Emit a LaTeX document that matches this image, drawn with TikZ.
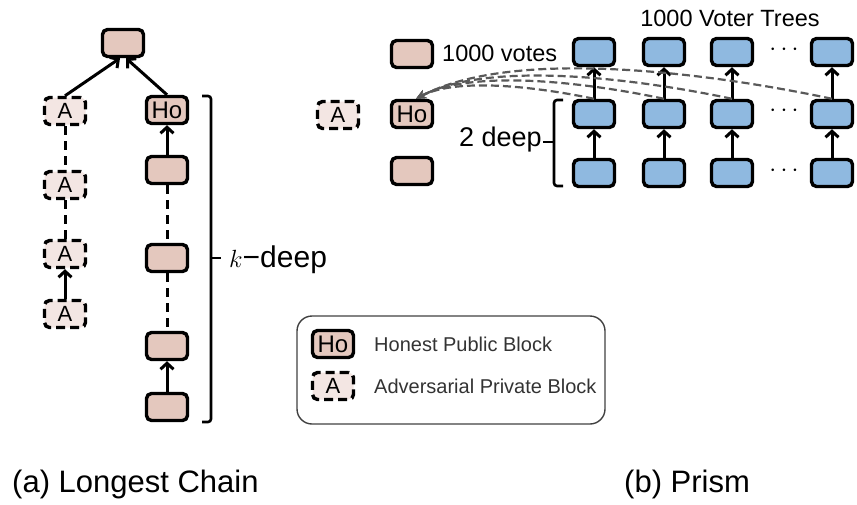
\documentclass[tikz,border=0pt]{standalone}
\usepackage{fontspec}
\setmainfont{Liberation Sans}
\usetikzlibrary{arrows.meta}

\definecolor{hofill}{HTML}{E4C8BE}
\definecolor{advfill}{HTML}{F3E6E3}
\definecolor{voterfill}{HTML}{8FB9E0}
\definecolor{keytext}{HTML}{333333}

\tikzset{
	block/.style = {draw, line width = 3.4pt, rounded corners = 5pt, minimum width = 41pt, minimum height = 27pt, inner sep = 0pt, font = \fontsize{24}{24}\selectfont},
	honest/.style = {block, fill = hofill},
	adv/.style = {block, dash pattern = on 9pt off 5pt, fill = advfill, font = \fontsize{22}{22}\selectfont},
	voter/.style = {block, fill = voterfill},
	link/.style = {line width = 3pt, -{Straight Barb[length = 6pt, width = 13pt]}},
	gap/.style = {line width = 3pt, dash pattern = on 9pt off 6pt},
	vote/.style = {draw = black!65, line width = 2.2pt, dash pattern = on 8pt off 4pt, -{Stealth[length = 10pt, width = 9pt]}},
	brace/.style = {line width = 2.6pt, rounded corners = 3pt}
}

\begin{document}
\begin{tikzpicture}[x = 1pt, y = -1pt]
	
		\useasboundingbox (0, 0) rectangle (857, 504);
		
		\node[honest] (root) at (123, 43) {};
		\node[adv] (a1) at (65, 111) {A};
		\node[adv] (a2) at (65, 185) {A};
		\node[adv] (a3) at (65, 254) {A};
		\node[adv] (a4) at (65, 314) {A};
		\node[honest] (h1) at (167, 110) {Ho};
		\node[honest] (h2) at (167, 170) {};
		\node[honest] (h3) at (167, 258) {};
		\node[honest] (h4) at (167, 346) {};
		\node[honest] (h5) at (167, 407) {};
		
		\draw[link] (a1.north) -- ([xshift = -3pt]root.south);
		\draw[link] (h1.north) -- ([xshift = 3pt]root.south);
		\draw[gap] (a1) -- (a2);
		\draw[gap] (a2) -- (a3);
		\draw[link] (a4) -- (a3);
		\draw[link] (h2) -- (h1);
		\draw[gap] (h2) -- (h3);
		\draw[gap] (h3) -- (h4);
		\draw[link] (h5) -- (h4);
		
		\draw[brace] (202, 96) -- (211, 96) -- (211, 422) -- (202, 422);
		\draw[line width = 2.6pt] (211, 258) -- (221, 258);
		\node[anchor = west, inner sep = 1pt, font = \fontsize{30}{30}\selectfont] (kdeep) at (228, 260) {$k$−deep};
		
		\node[honest] (p1) at (412, 54) {};
		\node[honest] (pho) at (412, 114) {Ho};
		\node[honest] (p3) at (412, 171) {};
		\node[adv] (pa) at (338, 115) {A};
		\node[anchor = west, inner sep = 1pt, font = \fontsize{23.5}{23.5}\selectfont] (votes) at (441, 53) {1000 votes};
		\node[font = \fontsize{23.5}{23.5}\selectfont] (trees) at (730, 18) {1000 Voter Trees};
		
		\foreach \x [count = \i] in {594, 664, 732, 832} {
			\node[voter] (t\i-1) at (\x, 52) {};
			\node[voter] (t\i-2) at (\x, 114) {};
			\node[voter] (t\i-3) at (\x, 173) {};
			\draw[link] (t\i-2) -- (t\i-1);
			\draw[link] (t\i-3) -- (t\i-2);
		}
		\foreach \y in {50, 111, 171} {
			\node[font = \fontsize{24}{24}\selectfont] at (784, \y) {$\cdots$};
		}
		\foreach \i in {1, ..., 4} {
			\draw[vote] (t\i-2.north) to[out = 168, in = 28, looseness = 0.7] ([xshift = 4pt]pho.north);
		}
		
		\draw[brace] (563, 100) -- (554, 100) -- (554, 186) -- (563, 186);
		\draw[line width = 2.6pt] (554, 142) -- (543, 142);
		\node[anchor = east, inner sep = 1pt, font = \fontsize{27}{27}\selectfont] (twodeep) at (543, 140) {2 deep};
		
		\draw[draw = black!75, line width = 1.4pt, rounded corners = 15pt] (297, 316) rectangle (605, 424);
		\node[honest] (keyho) at (333, 344) {Ho};
		\node[adv] (keya) at (333, 386) {A};
		\node[anchor = west, inner sep = 1pt, text = keytext, font = \fontsize{20}{20}\selectfont] (keyholabel) at (373, 344) {Honest Public Block};
		\node[anchor = west, inner sep = 1pt, text = keytext, font = \fontsize{20}{20}\selectfont] (keyalabel) at (373, 386) {Adversarial Private Block};
		
		\node[anchor = base west, inner sep = 0pt, font = \fontsize{31}{31}\selectfont] (capa) at (12, 492) {(a) Longest Chain};
		\node[anchor = base west, inner sep = 0pt, font = \fontsize{31}{31}\selectfont] (capb) at (624, 492) {(b) Prism};
		
	\end{tikzpicture}
\end{document}
